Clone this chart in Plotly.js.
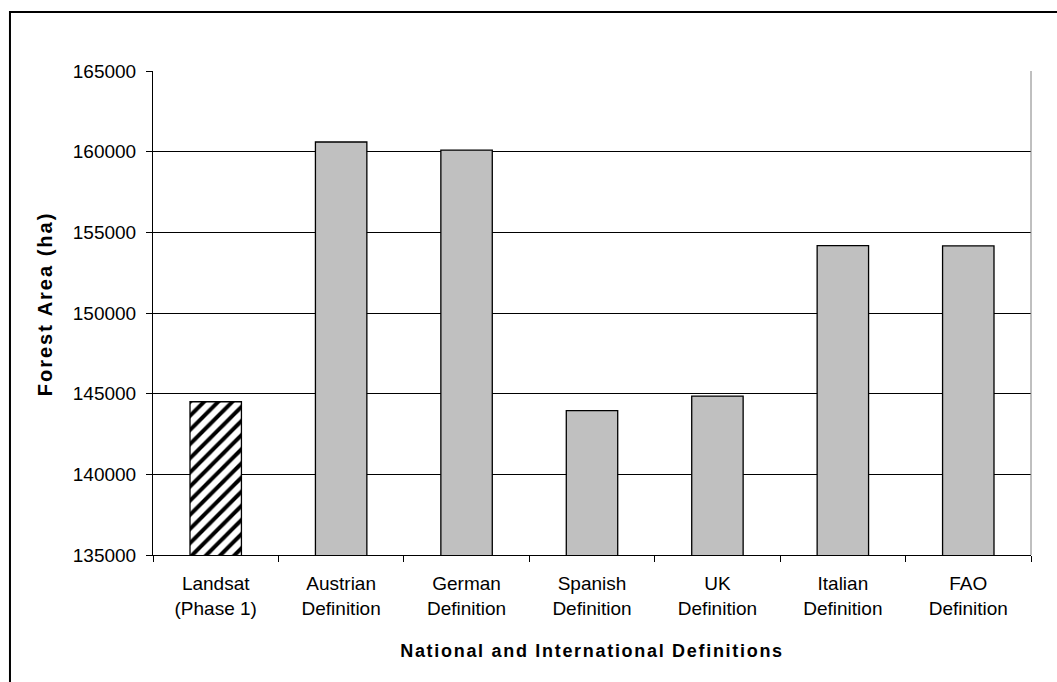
<!DOCTYPE html>
<html>
<head>
<meta charset="utf-8">
<script src="https://cdn.plot.ly/plotly-3.0.1.min.js"></script>
<style>
  html, body { margin: 0; padding: 0; background: #fff; }
  #chart { width: 1057px; height: 682px; }
  #chart .xtitle { letter-spacing: 1.7px; }
  #chart .annotation-text { letter-spacing: 2px; }
</style>
</head>
<body>
<div id="chart"></div>
<script>
// Forest area estimated under different forest definitions
const categories = [
  "Landsat<br>(Phase 1)",
  "Austrian<br>Definition",
  "German<br>Definition",
  "Spanish<br>Definition",
  "UK<br>Definition",
  "Italian<br>Definition",
  "FAO<br>Definition"
];
const forestArea = [144500, 160600, 160100, 143950, 144850, 154180, 154160];
const yTicks = [135000, 140000, 145000, 150000, 155000, 160000, 165000];

// Landsat estimate is drawn hatched, the national/international definitions in grey
const landsatX = categories.slice(0, 1);
const landsatY = forestArea.slice(0, 1);
const definitionX = categories.slice(1);
const definitionY = forestArea.slice(1);

const landsatTrace = {
  type: "bar",
  x: landsatX,
  y: landsatY,
  marker: {
    color: "#ffffff",
    line: { color: "#000000", width: 1.3 },
    pattern: {
      shape: "/",
      fillmode: "overlay",
      fgcolor: "#000000",
      fgopacity: 1,
      size: 10,
      solidity: 0.4
    }
  },
  hoverinfo: "x+y"
};

const definitionTrace = {
  type: "bar",
  x: definitionX,
  y: definitionY,
  marker: {
    color: "#c0c0c0",
    line: { color: "#000000", width: 1.3 }
  },
  hoverinfo: "x+y"
};

const fontFamily = "Liberation Sans, Arial, sans-serif";
const tickSize = 19;

const layout = {
  width: 1057,
  height: 682,
  margin: { l: 153, r: 26, t: 71, b: 127 },
  paper_bgcolor: "#ffffff",
  plot_bgcolor: "#ffffff",
  showlegend: false,
  barmode: "overlay",
  bargap: 0.59,
  font: { family: fontFamily, size: tickSize, color: "#000000" },
  xaxis: {
    type: "category",
    categoryorder: "array",
    categoryarray: categories,
    tickson: "boundaries",
    ticks: "outside",
    ticklen: 6,
    tickcolor: "#000000",
    showline: true,
    linecolor: "#000000",
    linewidth: 1,
    showgrid: false,
    tickfont: { family: fontFamily, size: tickSize, color: "#000000" },
    ticklabelstandoff: 11,
    title: {
      text: "<b>National and International Definitions</b>",
      font: { family: fontFamily, size: 18, color: "#000000" },
      standoff: 26
    }
  },
  yaxis: {
    range: [135000, 165000],
    tickvals: yTicks,
    ticktext: yTicks.map(String),
    ticks: "outside",
    ticklen: 6,
    tickcolor: "#000000",
    showline: true,
    linecolor: "#000000",
    linewidth: 1,
    showgrid: true,
    gridcolor: "#000000",
    gridwidth: 1,
    zeroline: false,
    tickfont: { family: fontFamily, size: tickSize, color: "#000000" },
    ticklabelstandoff: 6
  },
  annotations: [
    // y-axis title
    {
      text: "<b>Forest Area (ha)</b>",
      textangle: -90,
      xref: "paper", yref: "paper",
      x: -0.123, y: 0.518,
      xanchor: "center", yanchor: "middle",
      showarrow: false,
      font: { family: fontFamily, size: 20, color: "#000000" }
    }
  ],
  shapes: [
    // grey right edge of the plot area
    {
      type: "line", xref: "paper", yref: "paper",
      x0: 1, x1: 1, y0: 0, y1: 1,
      line: { color: "#808080", width: 1 }
    },
    // outer chart frame
    {
      type: "rect", xref: "paper", yref: "paper",
      x0: -0.1629, x1: 1.3, y0: -0.5, y1: 1.1219,
      line: { color: "#000000", width: 2 },
      fillcolor: "rgba(0,0,0,0)",
      layer: "above"
    }
  ]
};

Plotly.newPlot("chart", [landsatTrace, definitionTrace], layout, { displayModeBar: false, staticPlot: true });
</script>
</body>
</html>
